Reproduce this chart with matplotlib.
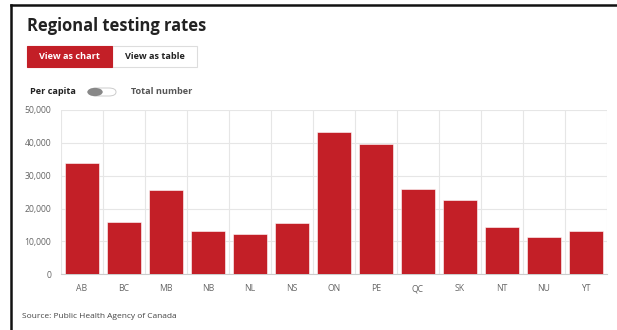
import matplotlib.pyplot as plt
from matplotlib.patches import Rectangle, FancyBboxPatch
from matplotlib.lines import Line2D

plt.rcParams['font.family'] = ['Open Sans', 'DejaVu Sans']

provinces = ["AB", "BC", "MB", "NB", "NL", "NS", "ON", "PE", "QC", "SK", "NT", "NU", "YT"]
tests = [33800, 16000, 25800, 13300, 12200, 15500, 43200, 39700, 26100, 22700, 14300, 11200, 13300]
yticks = [0, 10000, 20000, 30000, 40000, 50000]
ytick_labels = ["0", "10,000", "20,000", "30,000", "40,000", "50,000"]

red = "#c31f27"

fig = plt.figure(figsize=(6.17, 3.30), dpi=100)
W, H = 617, 330

def fx(px):
    return px / W

def fy(py):
    return 1 - py / H

# card border (top and left)
fig.add_artist(Line2D([fx(11), 1], [fy(5), fy(5)], color="#111", lw=1.8))
fig.add_artist(Line2D([fx(11), fx(11)], [fy(5), 0], color="#111", lw=1.8))

fig.text(fx(27), fy(26), "Regional testing rates", fontsize=11.9, fontweight="bold",
         color="#222", va="center", ha="left")

# buttons
fig.add_artist(Rectangle((fx(112), fy(67)), fx(85), 21 / H, facecolor="white",
                         edgecolor="#ddd", lw=0.8))
fig.add_artist(Rectangle((fx(27), fy(67)), fx(85), 21 / H, facecolor=red,
                         edgecolor=red, lw=0.8))
fig.text(fx(69.5), fy(56.5), "View as chart", fontsize=6.6, fontweight="bold",
         color="white", ha="center", va="center")
fig.text(fx(154.5), fy(56.5), "View as table", fontsize=6.6, fontweight="bold",
         color="#222", ha="center", va="center")

# toggle
fig.text(fx(30), fy(92), "Per capita", fontsize=6.6, fontweight="bold",
         color="#222", ha="left", va="center")
fig.add_artist(FancyBboxPatch((fx(89), fy(96)), fx(27), 8 / H,
                              boxstyle="round,pad=0,rounding_size=0.012",
                              facecolor="white", edgecolor="#ccc", lw=0.7))
fig.add_artist(plt.Circle((fx(95), fy(92)), 0.0125, transform=fig.transFigure,
                          facecolor="#888", edgecolor="none"))
fig.text(fx(131), fy(92), "Total number", fontsize=6.6, fontweight="bold",
         color="#555", ha="left", va="center")

ax = fig.add_axes([fx(61), fy(274.3), fx(546), 164.3 / H])
ax.bar(range(len(provinces)), tests, width=0.79, color=red, edgecolor="white",
       linewidth=0.4, zorder=3)
ax.set_xlim(-0.5, len(provinces) - 0.5)
ax.set_ylim(0, 50000)
ax.set_yticks(yticks)
ax.set_yticklabels(ytick_labels)
ax.set_xticks(range(len(provinces)))
ax.set_xticklabels(provinces)
ax.set_xticks([i + 0.5 for i in range(-1, len(provinces))], minor=True)
ax.grid(axis="y", which="major", color="#e6e6e6", lw=0.8, zorder=0)
ax.grid(axis="x", which="minor", color="#e6e6e6", lw=0.8, zorder=0)
ax.tick_params(axis="both", which="both", length=0, labelsize=6.2,
               labelcolor="#666")
ax.tick_params(axis="x", pad=7)
ax.tick_params(axis="y", pad=7)
for s in ax.spines.values():
    s.set_visible(False)
ax.spines["bottom"].set_visible(True)
ax.spines["bottom"].set_color("#ccc")
ax.spines["bottom"].set_linewidth(0.8)

fig.text(fx(22), fy(316), "Source: Public Health Agency of Canada", fontsize=6.0,
         color="#444", ha="left", va="center")

fig.savefig("out.png", dpi=100)
